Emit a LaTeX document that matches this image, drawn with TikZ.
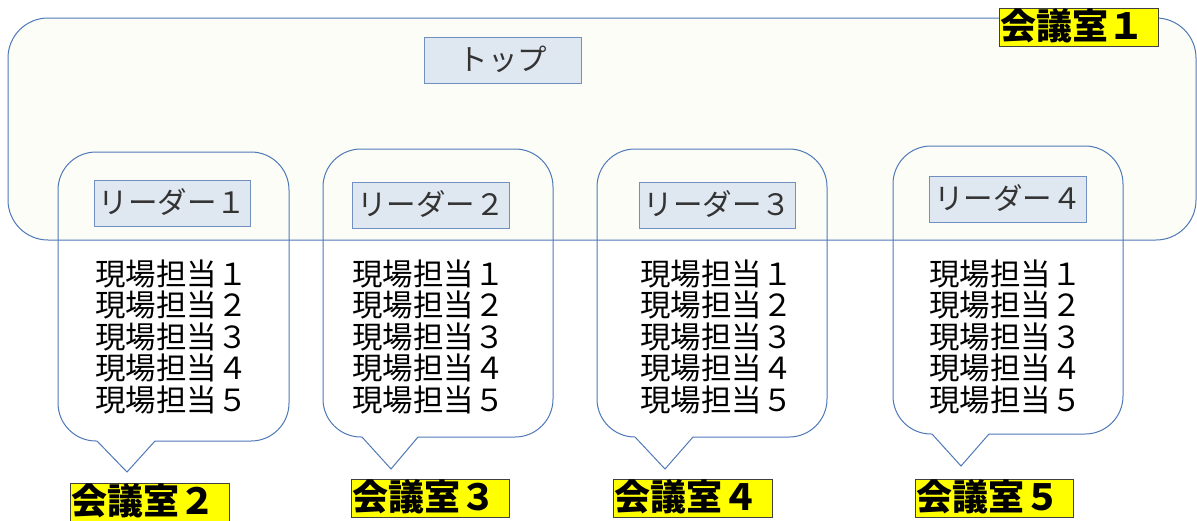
\documentclass[tikz,border=0pt]{standalone}
\usepackage{fontspec}
\setmainfont{Noto Sans CJK JP}
\definecolor{lineblue}{HTML}{4F79B8}
\definecolor{bgivory}{HTML}{FDFDF7}
\definecolor{leaderfill}{HTML}{DFE7F0}
\definecolor{leaderline}{HTML}{6F90C0}
\definecolor{labelyellow}{HTML}{FFFF00}
\definecolor{labelline}{HTML}{404040}
\definecolor{graytext}{HTML}{333333}
\newcommand{\calloutshape}[8]{%
  \draw[calloutline] (#5,#4) -- (#1+38,#4)
    .. controls (#1+17,#4) and (#1,#4-17) .. (#1,#4-38)
    -- (#1,#2+38)
    .. controls (#1,#2+17) and (#1+17,#2) .. (#1+38,#2)
    -- (#3-38,#2)
    .. controls (#3-17,#2) and (#3,#2+17) .. (#3,#2+38)
    -- (#3,#4-38)
    .. controls (#3,#4-17) and (#3-17,#4) .. (#3-38,#4)
    -- (#6,#4) -- (#7,#8) -- cycle;}
\begin{document}
\begin{tikzpicture}[x=1pt,y=-1pt,
  calloutline/.style={draw=lineblue, line width=1pt, line join=miter},
  leaderbox/.style={draw=leaderline, fill=leaderfill, line width=1pt, anchor=north west,
    minimum height=46pt, inner sep=0pt, text=graytext,
    font=\fontsize{29.5}{29.5}\selectfont, text height=24pt, text depth=4pt},
  roomlabel/.style={draw=labelline, fill=labelyellow, line width=0.8pt, anchor=north west,
    minimum height=38pt, inner xsep=1pt, inner ysep=0pt, text width=156pt, align=left,
    font=\bfseries\fontsize{36}{36}\selectfont, text height=29pt, text depth=4pt},
  member/.style={anchor=base west, inner sep=0pt, font=\fontsize{30.5}{30.5}\selectfont}]
\useasboundingbox (0,0) rectangle (1197,520);
\fill[white] (0,0) rectangle (1197,520);
% big room
\draw[draw=lineblue, fill=bgivory, line width=1pt, rounded corners=40pt] (8,18) rectangle (1196,240);
\node[leaderbox, minimum width=157pt] (top) at (424,37) {トップ};
% callouts
\calloutshape{58}{152}{289}{441}{97}{155}{127}{472}
\calloutshape{323}{149}{553}{437}{362}{418}{391}{469}
\calloutshape{597}{149}{827}{437}{635}{693}{665}{469}
\calloutshape{893}{146}{1123}{434}{932}{989}{961}{466}
% leaders
\node[leaderbox, minimum width=156pt] (lead1) at (94,180) {リーダー１};
\node[leaderbox, minimum width=157pt] (lead2) at (352,182) {リーダー２};
\node[leaderbox, minimum width=156pt] (lead3) at (639,182) {リーダー３};
\node[leaderbox, minimum width=157pt] (lead4) at (929,176) {リーダー４};
% members
\foreach \g/\x in {1/95, 2/352, 3/640, 4/929} {
  \foreach \i/\d in {1/１, 2/２, 3/３, 4/４, 5/５} {
    \node[member] (m\g\i) at (\x, 285+31.5*\i-31.5) {現場担当\d};
  }
}
% room labels
\node[roomlabel, minimum width=159pt] (room1) at (999,8) {会議室１};
\node[roomlabel, minimum width=159pt] (room2) at (70,483) {会議室２};
\node[roomlabel, minimum width=158pt] (room3) at (351,479) {会議室３};
\node[roomlabel, minimum width=159pt] (room4) at (613,479) {会議室４};
\node[roomlabel, minimum width=158pt] (room5) at (915,479) {会議室５};
\end{tikzpicture}
\end{document}
